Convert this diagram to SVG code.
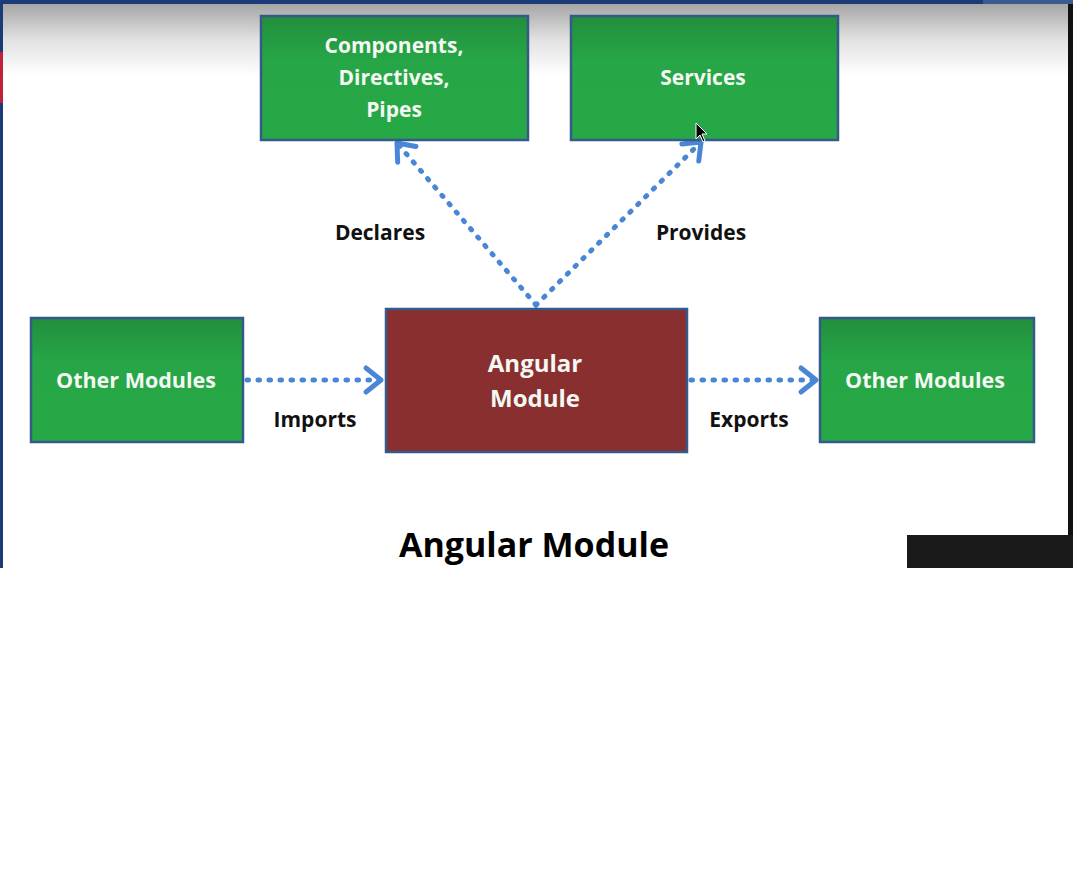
<svg xmlns="http://www.w3.org/2000/svg" width="1073" height="884" viewBox="0 0 1073 884">
  <defs>
    <linearGradient id="topShade" x1="0" y1="0" x2="0" y2="1">
      <stop offset="0" stop-color="#a6a6a6"/>
      <stop offset="0.5" stop-color="#e2e2e2"/>
      <stop offset="1" stop-color="#ffffff"/>
    </linearGradient>
    <linearGradient id="greenFill" x1="0" y1="0" x2="0" y2="1">
      <stop offset="0" stop-color="#228e3d"/>
      <stop offset="0.35" stop-color="#26a646"/>
      <stop offset="1" stop-color="#27a846"/>
    </linearGradient>
    <marker id="chev" markerUnits="userSpaceOnUse" viewBox="-20 -16 24 32" markerWidth="24" markerHeight="32" refX="0" refY="0" orient="auto" overflow="visible">
      <path d="M -15 -12 L 0 0 L -15 12" fill="none" stroke="#4a86d6" stroke-width="5" stroke-linecap="round" stroke-linejoin="round"/>
    </marker>
    <style>
      .box { stroke: #35598a; stroke-width: 2.5; }
      .green { fill: url(#greenFill); }
      .red { fill: #8a2f2f; }
      .ntext { font-family: "Open Sans", Lato, "Liberation Sans", sans-serif; font-weight: bold; fill: #f4f8f2; text-anchor: middle; }
      .label { font-family: "Open Sans", Lato, "Liberation Sans", sans-serif; font-weight: bold; fill: #111111; text-anchor: middle; font-size: 21px; }
      .conn { fill: none; stroke: #4a86d6; stroke-width: 5; stroke-linecap: round; stroke-dasharray: 1.5 9.5; marker-end: url(#chev); }
    </style>
  </defs>

  <!-- screen / slide background -->
  <rect x="0" y="0" width="1073" height="884" fill="#ffffff"/>
  <rect x="3" y="4" width="1066" height="72" fill="url(#topShade)"/>
  <rect x="0" y="0" width="1073" height="4" fill="#1d3a78"/>
  <rect x="983" y="0" width="90" height="4" fill="#3b5a90"/>
  <rect x="0" y="0" width="3" height="568" fill="#1d3a78"/>
  <rect x="0" y="52" width="3" height="51" fill="#c0203a"/>
  <rect x="1068" y="4" width="5" height="531" fill="#111111"/>
  <rect x="907" y="535" width="166" height="33" fill="#1a1a1a"/>

  <!-- connectors -->
  <g id="connectors">
    <path class="conn" d="M 247 380 L 381 380"/>
    <path class="conn" d="M 691 380 L 816 380"/>
    <path class="conn" d="M 536 305 L 397 143"/>
    <path class="conn" d="M 536 305 L 701 142"/>
  </g>

  <!-- nodes -->
  <g id="node-components">
    <rect class="box green" x="261" y="16" width="267" height="124"/>
    <text class="ntext" font-size="21" x="394" y="53">Components,</text>
    <text class="ntext" font-size="21" x="394" y="85">Directives,</text>
    <text class="ntext" font-size="21" x="394" y="117">Pipes</text>
  </g>
  <g id="node-services">
    <rect class="box green" x="571" y="16" width="267" height="124"/>
    <text class="ntext" font-size="21" x="703" y="85">Services</text>
  </g>
  <g id="node-angular-module">
    <rect class="box red" x="386" y="309" width="301" height="143"/>
    <text class="ntext" font-size="24" x="535" y="372">Angular</text>
    <text class="ntext" font-size="24" x="535" y="407">Module</text>
  </g>
  <g id="node-other-modules-left">
    <rect class="box green" x="31" y="318" width="212" height="124"/>
    <text class="ntext" font-size="21.5" x="136" y="388">Other Modules</text>
  </g>
  <g id="node-other-modules-right">
    <rect class="box green" x="820" y="318" width="214" height="124"/>
    <text class="ntext" font-size="21.5" x="925" y="388">Other Modules</text>
  </g>

  <!-- connector labels -->
  <g id="labels">
    <text class="label" x="380" y="240">Declares</text>
    <text class="label" x="701" y="240">Provides</text>
    <text class="label" x="315" y="427">Imports</text>
    <text class="label" x="749" y="427">Exports</text>
  </g>

  <!-- title -->
  <text x="534" y="557" font-family="'Open Sans', Lato, 'Liberation Sans', sans-serif" font-weight="bold" font-size="34" fill="#000000" text-anchor="middle">Angular Module</text>

  <!-- mouse pointer -->
  <path d="M 696 123 L 696 139 L 700 135 L 703 142 L 705 141 L 702 134 L 707 134 Z" fill="#000000" stroke="#ffffff" stroke-width="1"/>
</svg>
